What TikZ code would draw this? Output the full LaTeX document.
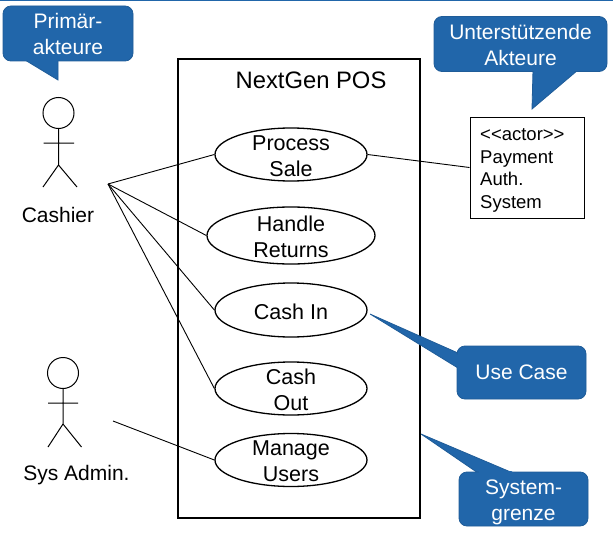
\documentclass[tikz,border=0pt]{standalone}
\usepackage{fontspec}
\setmainfont{Liberation Sans}
\definecolor{callblue}{HTML}{2166AA}
\definecolor{callline}{HTML}{1F5C98}
\tikzset{
  usecase/.style  = {ellipse, draw, line width=1.3pt, minimum width=152pt, minimum height=53pt, inner sep=0},
  casetext/.style = {align=center, inner sep=0, yshift=-1.5pt, font=\fontsize{21.5}{25.7}\selectfont},
  callbox/.style  = {rectangle, rounded corners=8pt, draw=callline, line width=0.8pt, fill=callblue, text=white, inner sep=0, align=center, font=\fontsize{21}{26}\selectfont},
  calltail/.style = {draw=callline, line width=0.8pt, fill=callblue, line join=miter},
  head/.style     = {circle, draw, line width=1pt, minimum size=31pt, inner sep=0},
  actorname/.style = {font=\fontsize{21}{25}\selectfont},
  limb/.style     = {line width=1pt},
  link/.style     = {line width=0.9pt}
}
\usetikzlibrary{shapes.geometric}
\begin{document}
\begin{tikzpicture}[x=1pt,y=-1pt]
  \useasboundingbox (0,0) rectangle (613,535);
  \fill[callblue] (0,0) rectangle (613,1.5);

  % system boundary
  \node[draw, line width=1.5pt, minimum width=242pt, minimum height=459pt, inner sep=0] (sys) at (299,288.5) {};
  \node[font=\fontsize{23.8}{27}\selectfont] (title) at (311,80) {NextGen POS};

  % use cases
  \node[usecase, label={[casetext]center:Process\\Sale}] (sale) at (291,154.5) {};
  \node[usecase, minimum width=168pt, minimum height=57pt, label={[casetext]center:Handle\\Returns}] (ret) at (291,235.5) {};
  \node[usecase, minimum height=54pt, label={[casetext]center:Cash In}] (cin) at (291,310) {};
  \node[usecase, label={[casetext]center:Cash\\Out}] (cout) at (291,388.5) {};
  \node[usecase, label={[casetext]center:Manage\\Users}] (users) at (291,460) {};

  % actors
  \node[head] (h1) at (58.5,113) {};
  \draw[limb] (h1.south) -- (58.5,165) (43.5,143) -- (74,143) (43,187) -- (58.5,165) -- (77,187);
  \node[actorname] (cashier) at (58,215) {Cashier};
  \node[head] (h2) at (63,373) {};
  \draw[limb] (h2.south) -- (63,424) (48,403) -- (78,403) (48,447) -- (63,424) -- (81.5,447);
  \node[actorname] (admin) at (76.5,475) {Sys Admin.};

  \node[draw, line width=1pt, minimum width=114pt, minimum height=101pt, inner sep=0] (pay) at (527,167.5) {};
  \node[anchor=north west, inner sep=0, align=left, font=\fontsize{18.5}{22.6}\selectfont] (paytxt) at (480,128.5) {<{}<actor>{}>\\Payment\\Auth.\\System};

  % connectors
  \coordinate (cport) at (108,184);
  \coordinate (aport) at (113,421);
  \draw[link] (cport) -- (sale.west);
  \draw[link] (cport) -- (ret.west);
  \draw[link] (cport) -- (cin.west);
  \draw[link] (cport) -- (cout.west);
  \draw[link] (aport) -- (users.west);
  \draw[link] (sale.east) -- (pay.west);

  % callouts
  \draw[calltail] (25,60) -- (58,80) -- (58,60);
  \node[callbox, minimum width=130pt, minimum height=55pt] (c1) at (68,33.5) {Primär-\\akteure};
  \fill[callblue] (25.5,58) -- (57.5,58) -- (57.5,62.5) -- (29,62.5) -- cycle;

  \draw[calltail] (533,70) -- (532,109) -- (578,70);
  \node[callbox, minimum width=173pt, minimum height=55pt] (c2) at (520.5,44) {\rule{0pt}{17pt}Unterstützende\\Akteure};
  \fill[callblue] (533.5,69) -- (577,69) -- (573,73) -- (533.5,73) -- cycle;

  \draw[calltail] (458,353) -- (370,314) -- (458,368);
  \node[callbox, minimum width=129pt, minimum height=53pt] (c3) at (521.5,372.5) {Use Case};
  \fill[callblue] (456,354) -- (459,355) -- (459,367) -- (456,366) -- cycle;

  \draw[calltail] (478,473) -- (421,434) -- (513,473);
  \node[callbox, minimum width=129pt, minimum height=54pt] (c4) at (523.5,499) {\rule{0pt}{21pt}System-\\grenze};
  \fill[callblue] (479,471) -- (511,471) -- (516,474) -- (479,474) -- cycle;
\end{tikzpicture}
\end{document}
